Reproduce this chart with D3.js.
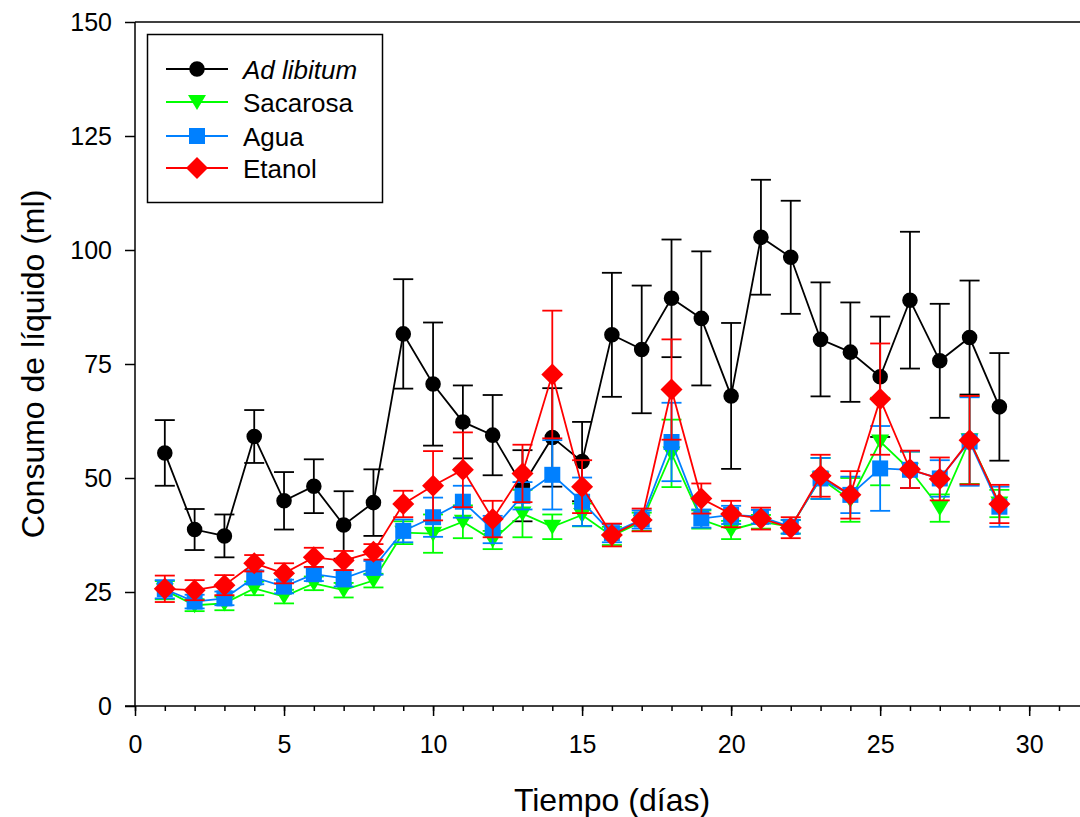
<!DOCTYPE html>
<html><head><meta charset="utf-8">
<script src="https://cdn.jsdelivr.net/npm/d3@7"></script>
<style>body{margin:0;background:#fff}svg{display:block}text{font-family:"Liberation Sans",Arial,sans-serif}</style>
</head><body><svg id="c" width="1080" height="817"></svg>
<script>
const days = [1,2,3,4,5,6,7,8,9,10,11,12,13,14,15,16,17,18,19,20,21,22,23,24,25,26,27,28,29];
const adLib = [55.5,38.7,37.3,59.1,45.0,48.2,39.7,44.6,81.6,70.6,62.3,59.4,48.3,58.9,53.6,81.4,78.2,89.4,85.0,68.0,102.8,98.4,80.4,77.6,72.2,89.0,75.7,80.8,65.6];
const adLibErr = [7.2,4.5,4.7,5.8,6.3,5.9,7.4,7.3,12,13.5,8,8.8,7.8,10.8,8.7,13.6,14,12.9,14.7,16,12.6,12.4,12.5,10.9,13.2,15,12.5,12.5,11.8];
const sacarosa = [25.4,22.1,22.5,25.8,24.0,26.9,25.4,27.5,38.0,37.8,40.4,36.4,42.2,39.3,41.9,37.3,40.4,55.4,40.9,38.6,40.4,39.3,49.9,45.2,58.0,51.8,43.4,58.3,44.4];
const sacarosaErr = [2,1.3,1.5,1.5,1.5,1.5,1.6,1.5,2.5,4.2,3.6,2,5.2,2.7,2.5,2,2,7.4,2,2,1.5,1.5,4.5,4.8,9.6,4,3,9.6,3];
const agua = [25.6,22.9,23.6,28.2,26.2,28.9,28.0,30.3,38.4,41.4,44.8,38.7,46.1,50.7,44.8,37.9,40.9,57.9,41.1,41.9,41.5,39.3,49.9,46.3,52.1,51.8,49.9,58.0,43.7];
const aguaErr = [2,1.5,1.5,1.5,1.5,1.5,1.8,1.5,2.5,4.3,3.5,3,3,7.6,5.3,2,2,8.6,2,2,1.5,1.5,4.5,4,9.3,4,4,9.7,4.4];
const etanol = [25.7,25.4,26.5,31.3,29.1,32.6,31.9,33.8,44.3,48.3,51.8,41.0,51.0,72.7,48.1,37.5,40.8,69.4,45.5,42.1,41.1,39.1,50.5,46.3,67.3,51.9,49.8,58.3,44.3];
const etanolErr = [2.9,2.2,2.2,1.8,2.2,2.1,2.1,1.7,2.9,7.6,8.2,4,6.3,14,5.8,2.5,2.5,11,3.3,2.9,2.4,2.3,4.6,5.2,12.2,4.1,4.7,9.7,4.2];
const seriesNames = ["Ad libitum","Sacarosa","Agua","Etanol"];
const xTicks = [0,5,10,15,20,25,30];
const yTicks = [0,25,50,75,100,125,150];

const svg = d3.select("#c");
const x = d3.scaleLinear().domain([0,31]).range([135,1059]);
const y = d3.scaleLinear().domain([0,150]).range([706,22]);
const FONT = "Liberation Sans, Arial, sans-serif";

// top frame line
svg.append("line").attr("x1",135).attr("x2",1080).attr("y1",y(150)).attr("y2",y(150)).attr("stroke","#000").attr("stroke-width",1.5);

// x axis
const xAxisMinor = d3.axisBottom(x).tickValues(d3.range(0,32)).tickSize(5).tickFormat("");
svg.append("g").attr("transform","translate(0,706)").call(xAxisMinor)
  .call(g=>g.select(".domain").remove()).selectAll("line").attr("stroke-width",1.5);
const xAxis = d3.axisBottom(x).tickValues(xTicks).tickSize(10).tickPadding(19);
const gx = svg.append("g").attr("transform","translate(0,706)").call(xAxis);
gx.select(".domain").remove();
gx.selectAll("line").attr("stroke-width",1.5);
gx.selectAll("text").attr("font-size",25).attr("fill","#000").attr("font-family",FONT);
svg.append("line").attr("x1",125).attr("x2",1080).attr("y1",706).attr("y2",706).attr("stroke","#000").attr("stroke-width",1.5);

// y axis
const yAxis = d3.axisLeft(y).tickValues(yTicks).tickSize(10).tickPadding(13);
const gy = svg.append("g").attr("transform","translate(135,0)").call(yAxis);
gy.select(".domain").remove();
gy.selectAll("line").attr("stroke-width",1.5);
gy.selectAll("text").attr("font-size",25).attr("fill","#000").attr("font-family",FONT);
svg.append("line").attr("x1",135).attr("x2",135).attr("y1",22).attr("y2",706).attr("stroke","#000").attr("stroke-width",1.5);

// titles
svg.append("text").attr("x",612).attr("y",811).attr("text-anchor","middle").attr("font-size",32).text("Tiempo (días)");
svg.append("text").attr("transform","translate(44,364) rotate(-90)").attr("text-anchor","middle").attr("font-size",32).text("Consumo de líquido (ml)");

function markerPath(type){
  if(type==="circle") return d3.symbol(d3.symbolCircle, 190)();
  if(type==="tri") return "M-9,-7L9,-7L0,8Z";
  if(type==="square") return "M-8,-8L8,-8L8,8L-8,8Z";
  if(type==="diamond") return "M0,-11L11,0L0,11L-11,0Z";
}

const series = [
  {name:seriesNames[0], vals:adLib, err:adLibErr, color:"#000000", m:"circle"},
  {name:seriesNames[1], vals:sacarosa, err:sacarosaErr, color:"#00ff00", m:"tri"},
  {name:seriesNames[2], vals:agua, err:aguaErr, color:"#0080ff", m:"square"},
  {name:seriesNames[3], vals:etanol, err:etanolErr, color:"#ff0000", m:"diamond"}
];

const line = d3.line().x(d=>x(d[0])).y(d=>y(d[1]));
series.forEach(s=>{
  const g = svg.append("g");
  const pts = days.map((d,i)=>[d,s.vals[i],s.err[i]]);
  const eb = g.append("g").attr("stroke",s.color).attr("stroke-width",1.8).attr("fill","none");
  pts.forEach(p=>{
    const cx = x(p[0]), t = y(p[1]+p[2]), b = y(p[1]-p[2]);
    eb.append("line").attr("x1",cx).attr("x2",cx).attr("y1",t).attr("y2",b);
    eb.append("line").attr("x1",cx-10).attr("x2",cx+10).attr("y1",t).attr("y2",t);
    eb.append("line").attr("x1",cx-10).attr("x2",cx+10).attr("y1",b).attr("y2",b);
  });
  g.append("path").attr("d",line(pts)).attr("fill","none").attr("stroke",s.color).attr("stroke-width",1.8);
  g.selectAll("path.mk").data(pts).join("path").attr("class","mk")
    .attr("transform",p=>`translate(${x(p[0])},${y(p[1])})`)
    .attr("d",markerPath(s.m)).attr("fill",s.color);
});

// legend
const lg = svg.append("g");
lg.append("rect").attr("x",147.5).attr("y",34.5).attr("width",235).attr("height",168).attr("fill","#fff").attr("stroke","#000").attr("stroke-width",1.5);
const rowY = [69,102,136,168];
series.forEach((s,i)=>{
  lg.append("line").attr("x1",166).attr("x2",228).attr("y1",rowY[i]).attr("y2",rowY[i]).attr("stroke",s.color).attr("stroke-width",1.8);
  lg.append("path").attr("transform",`translate(197,${rowY[i]})`).attr("d",markerPath(s.m)).attr("fill",s.color);
  lg.append("text").attr("x",243).attr("y",rowY[i]+10).attr("font-size",26).attr("font-style",i===0?"italic":"normal").text(s.name);
});
</script></body></html>
